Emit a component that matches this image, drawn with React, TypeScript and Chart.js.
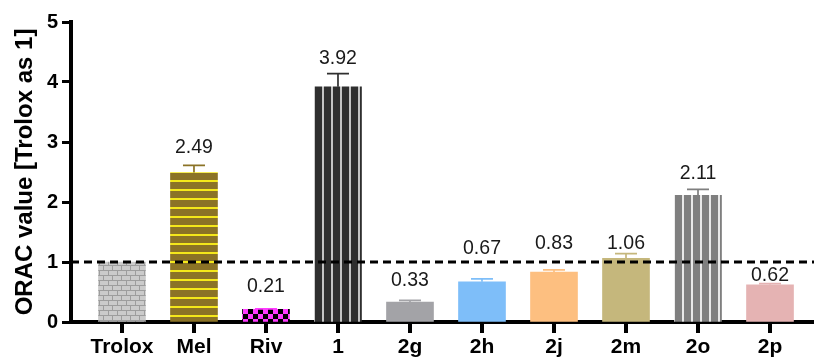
import React, { useEffect, useRef } from 'react';
import { Chart, registerables } from 'chart.js';

Chart.register(...registerables);

// ---- data ----
const categories = ['Trolox', 'Mel', 'Riv', '1', '2g', '2h', '2j', '2m', '2o', '2p'];
const values = [1.0, 2.49, 0.21, 3.92, 0.33, 0.67, 0.83, 1.06, 2.11, 0.62];
const errors = [0, 0.12, 0.01, 0.22, 0.03, 0.05, 0.04, 0.08, 0.1, 0.02];
const showValueLabel = [false, true, true, true, true, true, true, true, true, true];
const yTicks = [0, 1, 2, 3, 4, 5];
const referenceValue = 1;
const yTitle = 'ORAC value [Trolox as 1]';

// ---- styles ----
const FONT = '"Liberation Sans", Arial, Helvetica, sans-serif';
const baseColors = ['#9e9e9e', '#8b7326', '#ff3bff', '#2f2f2f', '#a3a3a7', '#7ebef9', '#fdbf80', '#c5b77c', '#7f7f7f', '#e5b3b3'];
const labelLift = [0, 18, 22, 15, 20, 30, 26, 10, 16, 8];

function makePattern(w: number, h: number, draw: (c: CanvasRenderingContext2D) => void): CanvasPattern | string {
  const cv = document.createElement('canvas');
  cv.width = w;
  cv.height = h;
  const c = cv.getContext('2d');
  if (!c) return '#999';
  draw(c);
  const tmp = document.createElement('canvas').getContext('2d');
  return (tmp && tmp.createPattern(cv, 'repeat')) || '#999';
}

function buildFills(): (CanvasPattern | string)[] {
  const brick = makePattern(18, 10, (c) => {
    c.fillStyle = '#cbcbcb';
    c.fillRect(0, 0, 18, 10);
    c.fillStyle = '#9d9d9d';
    c.fillRect(0, 0, 18, 1);
    c.fillRect(0, 5, 18, 1);
    c.fillRect(0, 0, 1, 5);
    c.fillRect(9, 0, 1, 5);
    c.fillRect(4, 5, 1, 5);
    c.fillRect(13, 5, 1, 5);
  });
  const mel = makePattern(9, 9, (c) => {
    c.fillStyle = '#8b7326';
    c.fillRect(0, 0, 9, 9);
    c.fillStyle = '#f4e81a';
    c.fillRect(0, 0, 9, 2);
  });
  const riv = makePattern(10, 10, (c) => {
    c.fillStyle = '#ff3bff';
    c.fillRect(0, 0, 10, 10);
    c.fillStyle = '#000';
    c.fillRect(3, 4, 5, 5);
    c.fillRect(8, 9, 5, 5);
    c.fillRect(-2, 9, 5, 5);
    c.fillRect(8, -1, 5, 5);
    c.fillRect(-2, -1, 5, 5);
  });
  const darkLines = makePattern(9, 2, (c) => {
    c.fillStyle = '#2f2f2f';
    c.fillRect(0, 0, 9, 2);
    c.fillStyle = '#c4c4c4';
    c.fillRect(7, 0, 2, 2);
  });
  const grayLines = makePattern(9, 2, (c) => {
    c.fillStyle = '#7f7f7f';
    c.fillRect(0, 0, 9, 2);
    c.fillStyle = '#e8e8e8';
    c.fillRect(7, 0, 2, 2);
  });
  return [brick, mel, riv, darkLines, '#a3a3a7', '#7ebef9', '#fdbf80', '#c5b77c', grayLines, '#e5b3b3'];
}

function drawCategoryTicks(ctx: CanvasRenderingContext2D, chart: any) {
  const x = chart.scales.x;
  const bottom = chart.chartArea.bottom;
  ctx.save();
  ctx.fillStyle = '#000';
  categories.forEach((_, i) => {
    const px = Math.round(x.getPixelForValue(i));
    ctx.fillRect(px - 2, bottom, 4, 11);
  });
  ctx.restore();
}

const overlayPlugin = {
  id: 'overlay',
  afterDraw(chart: any) {
    const { ctx, chartArea, scales } = chart;
    const y = scales.y;
    const meta = chart.getDatasetMeta(0);

    drawCategoryTicks(ctx, chart);

    // error bars
    values.forEach((v, i) => {
      const err = errors[i];
      const bar = meta.data[i];
      if (!bar || !err) return;
      const cx = bar.x;
      const yBar = y.getPixelForValue(v);
      const yTop = y.getPixelForValue(v + err);
      ctx.save();
      ctx.strokeStyle = baseColors[i];
      ctx.lineWidth = 1.7;
      ctx.beginPath();
      ctx.moveTo(cx, yBar);
      ctx.lineTo(cx, yTop);
      ctx.moveTo(cx - 11, yTop);
      ctx.lineTo(cx + 11, yTop);
      ctx.stroke();
      ctx.restore();
    });

    // reference dashed line
    const yl = y.getPixelForValue(referenceValue);
    ctx.save();
    ctx.setLineDash([8, 5]);
    ctx.lineWidth = 3;
    ctx.strokeStyle = '#000';
    ctx.beginPath();
    ctx.moveTo(chartArea.left, yl);
    ctx.lineTo(chartArea.right, yl);
    ctx.stroke();
    ctx.restore();

    // value labels
    ctx.save();
    ctx.font = `19.5px ${FONT}`;
    ctx.fillStyle = '#1a1a1a';
    ctx.textAlign = 'center';
    ctx.textBaseline = 'middle';
    values.forEach((v, i) => {
      if (!showValueLabel[i]) return;
      const bar = meta.data[i];
      if (!bar) return;
      const yTop = y.getPixelForValue(v + errors[i]);
      ctx.fillText(v.toFixed(2), bar.x, yTop - labelLift[i]);
    });
    ctx.restore();
  },
};

export default function App() {
  const canvasRef = useRef<HTMLCanvasElement | null>(null);
  const tickCanvasRef = useRef<HTMLCanvasElement | null>(null);

  useEffect(() => {
    document.body.style.margin = '0';
    const canvas = canvasRef.current;
    if (!canvas) return;
    const fills = buildFills();
    const chart = new Chart(canvas, {
      type: 'bar',
      data: {
        datasets: [
          {
            data: values.map((v, i) => ({ x: i, y: v })),
            backgroundColor: fills as any,
            barThickness: 47,
          },
        ],
      },
      options: {
        animation: false,
        responsive: true,
        maintainAspectRatio: false,
        layout: { padding: { top: 22 } },
        plugins: {
          legend: { display: false },
        },
        scales: {
          x: {
            type: 'linear',
            min: -0.708,
            max: 9.611,
            offset: false,
            afterBuildTicks: (s: any) => {
              s.ticks = categories.map((_, i) => ({ value: i }));
            },
            afterFit: (s: any) => {
              s.height = 38;
            },
            ticks: {
              callback: (v: any) => categories[v as number] ?? '',
              font: { family: FONT, size: 21, weight: 'bold' },
              color: '#000',
              padding: 13,
            },
            grid: { drawOnChartArea: false, drawTicks: false },
            border: { color: '#000', width: 4 },
          },
          y: {
            min: 0,
            max: 5,
            afterBuildTicks: (s: any) => {
              s.ticks = yTicks.map((v) => ({ value: v }));
            },
            afterFit: (s: any) => {
              s.width = 71;
            },
            ticks: {
              font: { family: FONT, size: 20, weight: 'bold' },
              color: '#000',
              padding: 4,
            },
            grid: {
              drawOnChartArea: false,
              tickLength: 9,
              tickWidth: 3,
              tickColor: '#000',
            },
            border: { color: '#000', width: 4 },
            title: {
              display: true,
              text: yTitle,
              font: { family: FONT, size: 24, weight: 'bold' },
              color: '#000',
              padding: { top: 11, bottom: 0 },
            },
          },
        },
      },
      plugins: [overlayPlugin],
    });

    // tick marks also drawn on a transparent layer above the chart, from the chart's own x scale
    const paintTickLayer = () => {
      const tc = tickCanvasRef.current;
      if (!tc) return;
      tc.width = chart.width;
      tc.height = chart.height;
      const tctx = tc.getContext('2d');
      if (!tctx) return;
      tctx.clearRect(0, 0, tc.width, tc.height);
      drawCategoryTicks(tctx, chart);
    };
    paintTickLayer();
    const raf = requestAnimationFrame(paintTickLayer);

    return () => {
      cancelAnimationFrame(raf);
      chart.destroy();
    };
  }, []);

  return (
    <div style={{ position: 'relative', width: 814, height: 360 }}>
      <canvas ref={canvasRef} />
      <canvas
        ref={tickCanvasRef}
        width={814}
        height={360}
        style={{ position: 'absolute', left: 0, top: 0, width: 814, height: 360, pointerEvents: 'none' }}
      />
    </div>
  );
}
